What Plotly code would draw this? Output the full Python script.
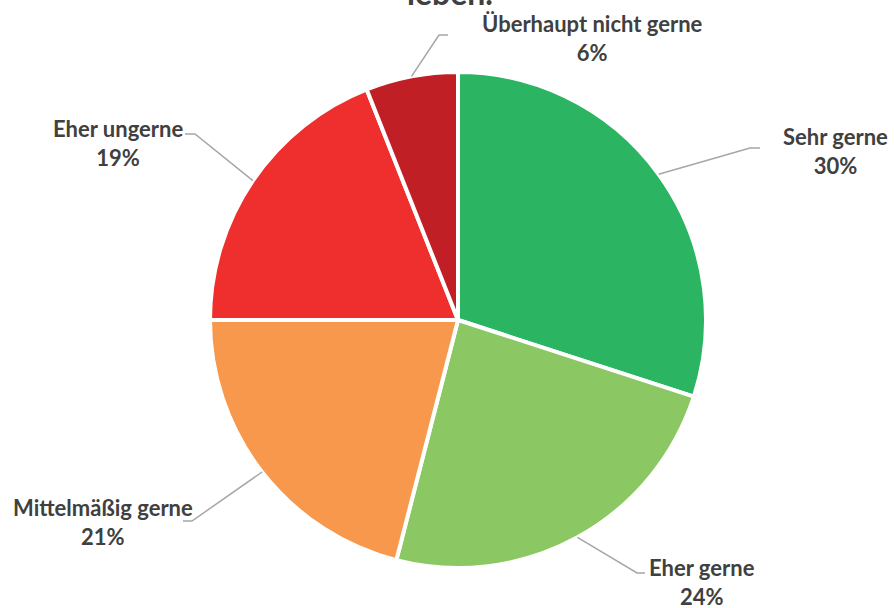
import math
import plotly.graph_objects as go

# Antworten und Anteile (in %)
labels = ['Sehr gerne', 'Eher gerne', 'Mittelmäßig gerne', 'Eher ungerne', 'Überhaupt nicht gerne']
values = [30, 24, 21, 19, 6]
colors = ['#2BB462', '#8BC763', '#F7984D', '#EE2F2E', '#C11F26']

W, H = 894, 608
# pie placement (pixels)
cx, cy, r = 458, 320, 248

# label block centres and leader-line elbow/end points (pixels)
label_pos = [(835, 151), (702, 582), (103, 522), (118, 143), (592, 38)]
elbows = [(750, 148), (637, 573), (192, 521), (195, 134), (439, 35)]
ends = [(760, 148), (645, 573), (183, 521), (185, 134), (448, 35)]


def px(x, y):
    return x / W, 1 - y / H


fig = go.Figure()
x0, y1 = px(cx - r, cy - r)
x1, y0 = px(cx + r, cy + r)
fig.add_trace(go.Pie(
    labels=labels, values=values, sort=False, direction='clockwise',
    marker=dict(colors=colors, line=dict(color='white', width=4)),
    textinfo='none', hoverinfo='label+percent', showlegend=False,
    domain=dict(x=[x0, x1], y=[y0, y1]),
))

total = sum(values)
cum = 0
shapes = []
annotations = []
for lab, v, lp, el, en in zip(labels, values, label_pos, elbows, ends):
    mid = (cum + v / 2) / total * 2 * math.pi
    cum += v
    sx, sy = cx + r * math.sin(mid), cy - r * math.cos(mid)
    p0, p1, p2 = px(sx, sy), px(*el), px(*en)
    shapes.append(dict(
        type='path', xref='paper', yref='paper',
        path=f'M {p0[0]},{p0[1]} L {p1[0]},{p1[1]} L {p2[0]},{p2[1]}',
        line=dict(color='#A6A6A6', width=1.5),
    ))
    ax, ay = px(*lp)
    annotations.append(dict(
        x=ax, y=ay, xref='paper', yref='paper', showarrow=False,
        xanchor='center', yanchor='middle',
        text=f'<b>{lab}</b><br><b>{v}%</b>', align='center',
        font=dict(family='Lato', size=22, color='#404040'),
    ))

# Rest des Diagrammtitels (oben abgeschnitten)
tx, ty = px(450, 14)
annotations.append(dict(
    x=tx, y=ty, xref='paper', yref='paper', showarrow=False,
    xanchor='center', yanchor='bottom', text='<b>leben.</b>',
    font=dict(family='Lato', size=32, color='#404040'),
))

fig.update_layout(
    width=W, height=H, margin=dict(l=0, r=0, t=0, b=0),
    paper_bgcolor='white', plot_bgcolor='white',
    shapes=shapes, annotations=annotations,
)

# drop the default 8px body margin so the figure fills the window
fig.write_html("out.html", config={'displayModeBar': False},
               post_script="document.body.style.margin='0';")
